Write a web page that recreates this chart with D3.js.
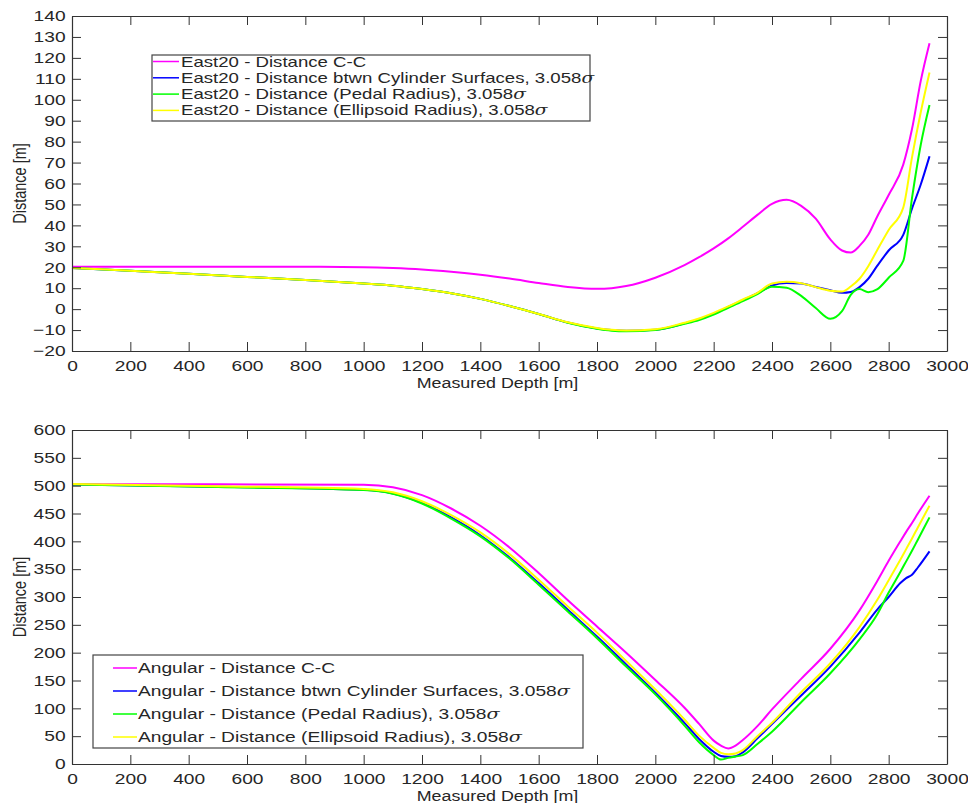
<!DOCTYPE html>
<html>
<head>
<meta charset="utf-8">
<script src="https://cdn.jsdelivr.net/npm/d3@7"></script>
<style>
body { margin: 0; background: #fff; }
svg text { font-family: "Liberation Sans", Arial, Helvetica, sans-serif; fill: #262626; }
</style>
</head>
<body>
<div id="chart"></div>
<script>

// ---- data ----
var xTicks = [0, 200, 400, 600, 800, 1000, 1200, 1400, 1600, 1800, 2000, 2200, 2400, 2600, 2800, 3000];
var topTicks = [-20, -10, 0, 10, 20, 30, 40, 50, 60, 70, 80, 90, 100, 110, 120, 130, 140];
var bottomTicks = [0, 50, 100, 150, 200, 250, 300, 350, 400, 450, 500, 550, 600];

// East20 panel
var topDepth = [0, 200, 400, 600, 800, 1000, 1100, 1200, 1300, 1400, 1500, 1600, 1700, 1800, 1850, 1900, 2000, 2100, 2150, 2200, 2250, 2300, 2350, 2400, 2450, 2500, 2550, 2600, 2640, 2670, 2700, 2730, 2760, 2800, 2850, 2880, 2910, 2940];
var eastCC    = [20.2, 20.2, 20.2, 20.2, 20.2, 20.0, 19.6, 18.9, 17.8, 16.4, 14.6, 12.5, 10.6, 9.7, 10.0, 11.0, 15.0, 21.0, 24.8, 29.0, 33.8, 39.3, 45.0, 50.3, 52.2, 49.3, 43.2, 33.3, 28.0, 27.0, 30.2, 35.5, 44.0, 54.5, 69.0, 86.0, 109.0, 127.0];
var eastCyl   = [19.6, 18.3, 16.9, 15.4, 13.9, 12.2, 11.2, 9.6, 7.6, 4.9, 1.5, -2.3, -6.4, -9.2, -10.0, -10.3, -9.8, -6.8, -4.8, -2.2, 1.0, 4.3, 7.6, 11.3, 12.5, 12.2, 10.6, 9.0, 7.8, 8.2, 10.5, 14.5, 20.5, 28.0, 35.5, 48.0, 59.5, 73.0];
var eastPedal = [19.6, 18.3, 16.9, 15.4, 13.9, 12.2, 11.2, 9.6, 7.6, 4.9, 1.5, -2.3, -6.5, -9.4, -10.3, -10.6, -10.0, -7.0, -5.2, -2.6, 0.6, 3.8, 7.2, 10.7, 10.2, 6.3, 0.5, -4.6, -1.0, 6.8, 9.6, 8.1, 9.4, 15.0, 23.0, 53.0, 78.5, 97.5];
var eastEllip = [19.7, 18.3, 16.9, 15.4, 13.9, 12.2, 11.2, 9.6, 7.6, 4.9, 1.5, -2.3, -6.3, -9.0, -9.9, -10.2, -9.6, -6.5, -4.5, -1.8, 1.3, 4.6, 7.8, 12.2, 13.1, 12.4, 10.5, 8.8, 8.4, 10.8, 14.5, 20.5, 28.0, 37.8, 48.5, 72.5, 94.0, 113.0];

// Angular panel
var bottomDepth = [0, 500, 1000, 1100, 1200, 1300, 1400, 1500, 1600, 1700, 1800, 1900, 2000, 2100, 2150, 2200, 2225, 2250, 2275, 2300, 2350, 2400, 2500, 2600, 2700, 2760, 2800, 2840, 2860, 2880, 2900, 2940];
var angCC    = [502.5, 502.5, 501.5, 497, 483, 459, 428, 389, 343, 294, 247, 200, 151, 101, 72, 42, 33, 28, 33, 43, 68, 98, 153, 207, 276, 328, 365, 400, 417, 433, 450, 482];
var angCyl   = [502, 498, 492.5, 486, 469, 443, 411, 371, 325, 277, 229, 179, 128, 74, 45, 22, 14.5, 13, 14, 21, 46, 72, 123, 175, 236, 277, 300, 325, 334, 340, 353, 382];
var angPedal = [502, 497.5, 492, 485.5, 468, 441, 409, 369, 322, 274, 226, 175, 125, 69, 39, 16, 8, 11, 13.5, 16, 36, 58, 111, 163, 224, 268, 308, 345, 364, 383, 403, 443];
var angEllip = [503, 499, 494, 488, 472, 447, 416, 377, 331, 283, 236, 185, 134, 80, 51, 29, 20, 17.5, 19, 25, 50, 74, 129, 181, 246, 294, 330, 367, 386, 405, 425, 464];

var colors = ["#ff00ff", "#0000ff", "#00ff00", "#ffff00"];

var eastNames = ["East20 - Distance C-C",
                 "East20 - Distance btwn Cylinder Surfaces, 3.058",
                 "East20 - Distance (Pedal Radius), 3.058",
                 "East20 - Distance (Ellipsoid Radius), 3.058"];
var angNames = ["Angular - Distance C-C",
                "Angular - Distance btwn Cylinder Surfaces, 3.058",
                "Angular - Distance (Pedal Radius), 3.058",
                "Angular - Distance (Ellipsoid Radius), 3.058"];

// text in the reference is stretched sideways
var SX_TICK = 1.28, SX_TITLE = 1.19;

var svg = d3.select("#chart").append("svg")
    .attr("width", 968)
    .attr("height", 803);

function drawPanel(opt) {
    var x = d3.scaleLinear().domain([0, 3000]).range([opt.left, opt.right]);
    var y = d3.scaleLinear().domain(opt.yDomain).range([opt.bottom, opt.top]);

    var g = svg.append("g");

    // series
    var line = d3.line()
        .x(function(d) { return x(d[0]); })
        .y(function(d) { return y(d[1]); })
        .curve(d3.curveMonotoneX);

    opt.series.forEach(function(s, i) {
        var pts = opt.depth.map(function(d, j) { return [d, s[j]]; });
        g.append("path")
            .datum(pts)
            .attr("fill", "none")
            .attr("stroke", colors[i])
            .attr("stroke-width", 2)
            .attr("d", line);
    });

    // axes, ticks pointing inwards on all four sides
    var tick = 9;
    var xb = g.append("g")
        .attr("transform", "translate(0," + opt.bottom + ")")
        .call(d3.axisBottom(x).tickValues(xTicks).tickFormat(d3.format("d")).tickSize(-tick).tickSizeOuter(0).tickPadding(9));
    var xt = g.append("g")
        .attr("transform", "translate(0," + opt.top + ")")
        .call(d3.axisTop(x).tickValues(xTicks).tickFormat("").tickSize(-tick).tickSizeOuter(0));
    var yl = g.append("g")
        .attr("transform", "translate(" + opt.left + ",0)")
        .call(d3.axisLeft(y).tickValues(opt.yTicks).tickFormat(d3.format("d")).tickSize(-tick).tickSizeOuter(0).tickPadding(5));
    var yr = g.append("g")
        .attr("transform", "translate(" + opt.right + ",0)")
        .call(d3.axisRight(y).tickValues(opt.yTicks).tickFormat("").tickSize(-tick).tickSizeOuter(0));

    [xb, xt, yl, yr].forEach(function(a) {
        a.selectAll("path.domain").attr("stroke", "#333").attr("stroke-width", 1.2);
        a.selectAll(".tick line").attr("stroke", "#333").attr("stroke-width", 1);
        a.selectAll("text")
            .attr("font-size", 15)
            .attr("fill", "#222")
            .attr("transform", "scale(" + SX_TICK + ",1)");
    });

    // axis titles
    g.append("text")
        .attr("transform", "translate(" + ((opt.left + opt.right) / 2 - 12) + "," + (opt.bottom + 37) + ") scale(" + SX_TITLE + ",1)")
        .attr("text-anchor", "middle")
        .attr("font-size", 15)
        .text("Measured Depth [m]");

    g.append("text")
        .attr("transform", "translate(26," + ((opt.top + opt.bottom) / 2) + ") scale(1.3,1) rotate(-90)")
        .attr("text-anchor", "middle")
        .attr("font-size", 14.5)
        .text("Distance [m]");

    // legend
    var L = opt.legend;
    g.append("rect")
        .attr("x", L.x0).attr("y", L.y0)
        .attr("width", L.x1 - L.x0).attr("height", L.y1 - L.y0)
        .attr("fill", "#fff")
        .attr("stroke", "#444")
        .attr("stroke-width", 1.2);

    opt.names.forEach(function(name, i) {
        var ry = L.rowY + i * L.rowStep;
        g.append("line")
            .attr("x1", L.lineX0).attr("x2", L.lineX1)
            .attr("y1", ry).attr("y2", ry)
            .attr("stroke", colors[i])
            .attr("stroke-width", 1.5);
        var t = g.append("text")
            .attr("transform", "translate(" + L.textX + "," + (ry + 5) + ") scale(" + L.sx + ",1)")
            .attr("font-size", 14)
            .attr("fill", "#000");
        t.append("tspan").text(name);
        if (i > 0) {
            t.append("tspan").attr("font-style", "italic").attr("font-family", "'DejaVu Serif', serif").text("\u03c3");
        }
    });
}

drawPanel({
    left: 72, right: 947, top: 16, bottom: 351,
    yDomain: [-20, 140], yTicks: topTicks,
    depth: topDepth,
    series: [eastCC, eastCyl, eastPedal, eastEllip],
    names: eastNames,
    legend: {x0: 152, x1: 590, y0: 55, y1: 121, rowY: 61.5, rowStep: 16.3, lineX0: 153, lineX1: 179, textX: 181, sx: 1.33}
});

drawPanel({
    left: 72, right: 947, top: 430, bottom: 764,
    yDomain: [0, 600], yTicks: bottomTicks,
    depth: bottomDepth,
    series: [angCC, angCyl, angPedal, angEllip],
    names: angNames,
    legend: {x0: 93, x1: 583, y0: 655, y1: 748, rowY: 668, rowStep: 23, lineX0: 113, lineX1: 137, textX: 138, sx: 1.37}
});

</script>
</body>
</html>
